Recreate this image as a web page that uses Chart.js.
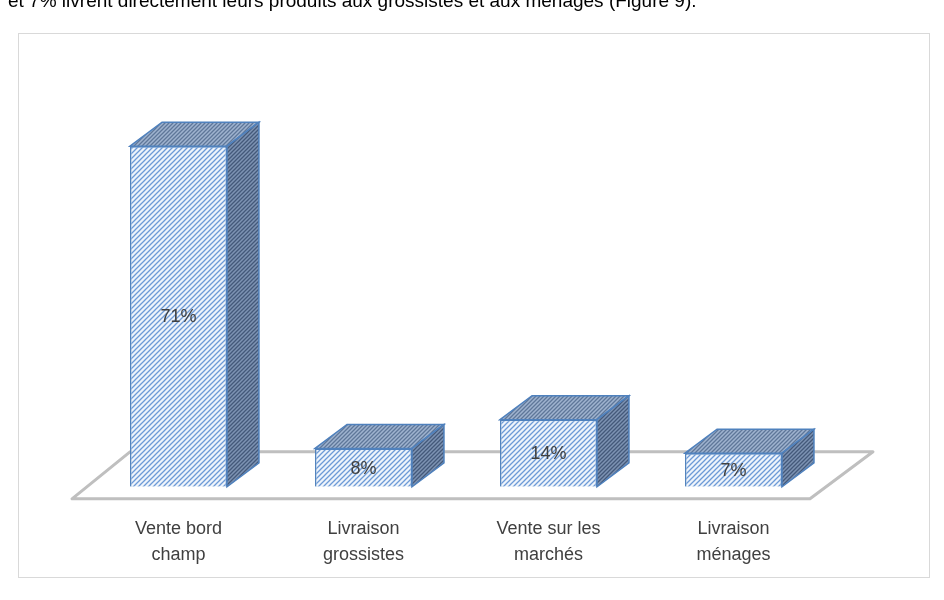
<!DOCTYPE html>
<html><head><meta charset="utf-8">
<script src="https://cdn.jsdelivr.net/npm/chart.js@4/dist/chart.umd.min.js"></script>
<style>html,body{margin:0;padding:0;background:#fff}#w{width:944px;height:600px;position:relative}</style>
</head><body><div id="w"><canvas id="c" width="944" height="600"></canvas></div>
<script>
const categories = [["Vente bord","champ"],["Livraison","grossistes"],["Vente sur les","marchés"],["Livraison","ménages"]];
const values = [71, 8, 14, 7];
const valueLabels = ["71%","8%","14%","7%"];

function pat(bg, fg, step, lw){
  const c=document.createElement('canvas');c.width=step;c.height=step;
  const x=c.getContext('2d');x.fillStyle=bg;x.fillRect(0,0,step,step);
  x.strokeStyle=fg;x.lineWidth=lw;
  x.beginPath();x.moveTo(0,step);x.lineTo(step,0);x.moveTo(-step/2,step/2);x.lineTo(step/2,-step/2);x.moveTo(step/2,step*1.5);x.lineTo(step*1.5,step/2);x.stroke();
  return x.createPattern(c,'repeat');
}
const ctx0=document.getElementById('c').getContext('2d');
const frontPat=pat('#eef4fb','#6d9ad6',5,1.3);
const topPat=pat('#9fb3cf','#5f7799',4,1.3);
const sidePat=pat('#7d93b3','#44597a',4,1.3);
const DX=32, DY=24;

const plugin={id:'p3d',
 beforeDraw(chart){
  const c=chart.ctx;
  c.save();
  c.strokeStyle='#d9d9d9';c.lineWidth=1;c.strokeRect(18.5,33.5,911,544);
  c.fillStyle='#000';c.font='19px "Liberation Sans", Arial';c.textBaseline='alphabetic';
  c.fillText('et 7% livrent directement leurs produits aux grossistes et aux ménages (Figure 9).',8,7);
  c.restore();
 },
 beforeDatasetsDraw(chart){
  const c=chart.ctx,a=chart.chartArea,y0=chart.scales.y.getPixelForValue(0);
  const fy=y0+12, fl=a.left-14, fr=a.right-16;
  c.save();c.strokeStyle='#bfbfbf';c.lineWidth=3;c.lineJoin='round';
  c.beginPath();c.moveTo(fl,fy);c.lineTo(fr,fy);c.lineTo(fr+63,fy-47);c.lineTo(fl+58,fy-47);c.closePath();
  c.fillStyle='#fff';c.fill();c.stroke();c.restore();
 },
 afterDatasetsDraw(chart){
  const c=chart.ctx,meta=chart.getDatasetMeta(0);
  c.save();c.strokeStyle='#4f81bd';c.lineWidth=1.5;
  meta.data.forEach((b,i)=>{
   const l=b.x-b.width/2,r=b.x+b.width/2,t=b.y,bt=b.base;
   c.beginPath();c.moveTo(l,t);c.lineTo(l+DX,t-DY);c.lineTo(r+DX,t-DY);c.lineTo(r,t);c.closePath();
   c.fillStyle=topPat;c.fill();c.stroke();
   c.beginPath();c.moveTo(r,t);c.lineTo(r+DX,t-DY);c.lineTo(r+DX,bt-DY);c.lineTo(r,bt);c.closePath();
   c.fillStyle=sidePat;c.fill();c.stroke();
   c.font='18px "Liberation Sans", Arial';c.textAlign='center';c.textBaseline='middle';
   c.fillStyle='#404040';c.fillText(valueLabels[i],b.x,(t+bt)/2+1);
  });
  c.restore();
 }};

new Chart(ctx0,{type:'bar',
 data:{labels:categories,datasets:[{data:values,backgroundColor:frontPat,borderColor:'#4f81bd',borderWidth:1.5,categoryPercentage:1,barPercentage:0.524}]},
 options:{responsive:false,animation:false,
  layout:{padding:{left:86,right:118,top:103,bottom:11}},
  plugins:{legend:{display:false},tooltip:{enabled:false}},
  scales:{
   y:{display:false,min:0,max:80},
   x:{grid:{display:false},border:{display:false},ticks:{padding:21,color:'#404040',font:{family:'"Liberation Sans", Arial',size:18,lineHeight:1.45},maxRotation:0}}
  }},
 plugins:[plugin]});
</script></body></html>
